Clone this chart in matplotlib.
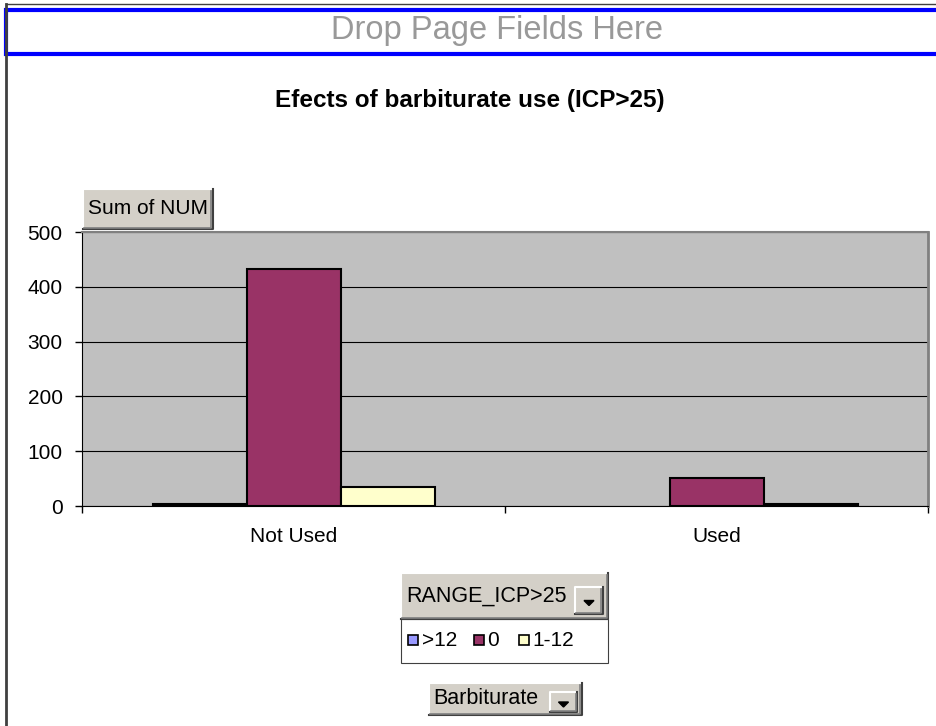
import matplotlib

matplotlib.use("Agg")
import matplotlib.pyplot as plt
import numpy as np
from matplotlib.patches import Rectangle, Polygon
from matplotlib.lines import Line2D

plt.rcParams["font.family"] = ["Liberation Sans", "DejaVu Sans"]

W, H = 937, 726

categories = ["Not Used", "Used"]
series_names = [">12", "0", "1-12"]
series_vals = {
    ">12": [4, 0],
    "0": [433, 52],
    "1-12": [34, 4],
}
series_colors = {">12": "#9999FF", "0": "#993366", "1-12": "#FFFFCC"}
y_ticks = [0, 100, 200, 300, 400, 500]

fig = plt.figure(figsize=(W / 100, H / 100), dpi=100)
fig.patch.set_facecolor("white")


def fx(x):
    return x / W


def fy(y):
    return 1 - y / H


def prect(x0, y0, x1, y1, **kw):
    r = Rectangle((fx(x0), fy(y1)), fx(x1) - fx(x0), fy(y0) - fy(y1),
                  transform=fig.transFigure, **kw)
    fig.add_artist(r)


def pline(xs, ys, **kw):
    fig.add_artist(Line2D([fx(v) for v in xs], [fy(v) for v in ys],
                          transform=fig.transFigure, **kw))


def button(x0, y0, x1, y1):
    prect(x0, y0, x1, y1, facecolor="#d4d0c8", edgecolor="none")
    pline([x0, x0, x1], [y1, y0, y0], color="white", lw=1.5)
    pline([x0, x1, x1], [y1, y1, y0], color="#404040", lw=1.5)
    pline([x0 + 1.5, x1 - 1.5, x1 - 1.5], [y1 - 1.5, y1 - 1.5, y0 + 1.5], color="#808080", lw=1.2)


def dropdown(x0, y0, x1, y1):
    button(x0, y0, x1, y1)
    cx = (x0 + x1) / 2
    cy = (y0 + y1) / 2 + 2
    tri = Polygon([(fx(cx - 5), fy(cy - 2)), (fx(cx + 5), fy(cy - 2)), (fx(cx), fy(cy + 3))],
                  closed=True, transform=fig.transFigure, facecolor="black", edgecolor="black")
    fig.add_artist(tri)


# outer frame
pline([6, 6], [4, 726], color="#404040", lw=2)
pline([6, 937], [4, 4], color="#404040", lw=1)
prect(6, 10, 940, 54, facecolor="white", edgecolor="#0000FF", lw=3)
fig.text(fx(497), fy(31), "Drop Page Fields Here", ha="center", va="center",
         fontsize=23.5, color="#999999")

fig.text(fx(470), fy(100), "Efects of barbiturate use (ICP>25)", ha="center", va="center",
         fontsize=17.5, fontweight="bold")

# plot area
ax = fig.add_axes([fx(82), fy(506), fx(928) - fx(82), fy(232) - fy(506)])
ax.set_facecolor("#c0c0c0")
x = np.arange(len(categories))
bw = 1 / 4.5
for i, name in enumerate(series_names):
    vals = np.array(series_vals[name], dtype=float)
    keep = vals > 0
    ax.bar(x[keep] + (i - 1) * bw, vals[keep], width=bw, color=series_colors[name],
           edgecolor="black", linewidth=1.5, zorder=3)
ax.set_xlim(-0.5, 1.5)
ax.set_ylim(0, 500)
ax.set_yticks(y_ticks)
ax.yaxis.grid(True, color="black", linewidth=0.8, zorder=1)
ax.set_axisbelow(True)
ax.tick_params(axis="y", labelsize=15, length=5, width=1, pad=9, direction="out")
ax.set_xticks([-0.5, 0.5, 1.5])
ax.set_xticklabels([])
ax.set_xticks(x, minor=True)
ax.set_xticklabels(categories, minor=True)
ax.tick_params(axis="x", which="major", length=5, width=1, direction="out")
ax.tick_params(axis="x", which="minor", length=0, labelsize=15, pad=15)
ax.spines["left"].set_color("black")
ax.spines["bottom"].set_color("black")
ax.spines["top"].set_color("#808080")
ax.spines["right"].set_color("#808080")
ax.spines["right"].set_linewidth(2)
ax.spines["top"].set_linewidth(1.5)

# Sum of NUM field button
button(83, 189, 213, 229)
fig.text(fx(88), fy(208), "Sum of NUM", ha="left", va="center", fontsize=15)

# legend field button and entries
button(401, 573, 608, 619)
fig.text(fx(406), fy(596), "RANGE_ICP>25", ha="left", va="center", fontsize=15.5)
dropdown(575, 587, 603, 614)
prect(401, 619, 608, 663, facecolor="white", edgecolor="#404040", lw=0.8)
legend_x = [(408, 422), (474, 487), (519, 532)]
for name, (sx, tx) in zip(series_names, legend_x):
    prect(sx, 635, sx + 10, 645, facecolor=series_colors[name], edgecolor="black", lw=1.2)
    fig.text(fx(tx), fy(640), name, ha="left", va="center", fontsize=15)

# Barbiturate field button
button(429, 683, 582, 715)
fig.text(fx(433), fy(699), "Barbiturate", ha="left", va="center", fontsize=15.5)
dropdown(550, 692, 577, 712)

fig.savefig("out.png", dpi=100)
